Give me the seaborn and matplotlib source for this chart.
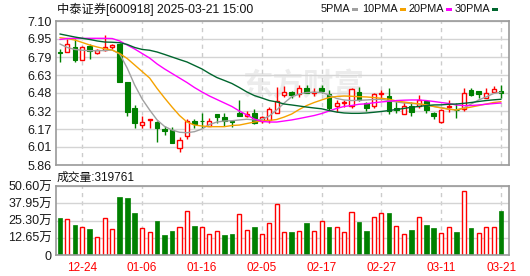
import numpy as np
import pandas as pd
import matplotlib
matplotlib.use("Agg")
import matplotlib.pyplot as plt
from matplotlib.patches import Rectangle
import seaborn as sns

# ---------------- data ----------------
dates = ["12-19", "12-20", "12-23", "12-24", "12-25", "12-26", "12-27", "12-30", "12-31",
         "01-02", "01-03", "01-06", "01-07", "01-08", "01-09", "01-10", "01-13", "01-14",
         "01-15", "01-16", "01-17", "01-20", "01-21", "01-22", "01-23", "01-24", "01-27",
         "02-05", "02-06", "02-07", "02-10", "02-11", "02-12", "02-13", "02-14", "02-17",
         "02-18", "02-19", "02-20", "02-21", "02-24", "02-25", "02-26", "02-27", "02-28",
         "03-03", "03-04", "03-05", "03-06", "03-07", "03-10", "03-11", "03-12", "03-13",
         "03-14", "03-17", "03-18", "03-19", "03-20", "03-21"]

open_ = [6.832, 6.830, 6.876, 6.764, 6.887, 6.822, 6.846, 6.880, 6.906, 6.572,
         6.348, 6.202, 6.250, 6.228, 6.167, 6.161, 6.004, 6.110, 6.235, 6.243,
         6.200, 6.295, 6.273, 6.240, 6.310, 6.278, 6.312, 6.235, 6.248, 6.310,
         6.463, 6.491, 6.469, 6.519, 6.480, 6.520, 6.471, 6.370, 6.394, 6.371,
         6.486, 6.391, 6.371, 6.470, 6.454, 6.347, 6.303, 6.368, 6.364, 6.411,
         6.312, 6.233, 6.360, 6.336, 6.338, 6.502, 6.493, 6.441, 6.486, 6.497]
high = [6.859, 6.941, 6.942, 6.885, 6.899, 6.855, 6.979, 6.902, 6.910, 6.572,
        6.374, 6.279, 6.258, 6.239, 6.192, 6.187, 6.097, 6.256, 6.256, 6.312,
        6.265, 6.299, 6.305, 6.245, 6.420, 6.325, 6.340, 6.282, 6.362, 6.534,
        6.543, 6.500, 6.549, 6.553, 6.520, 6.553, 6.506, 6.420, 6.420, 6.526,
        6.532, 6.405, 6.484, 6.510, 6.527, 6.415, 6.403, 6.403, 6.467, 6.424,
        6.319, 6.338, 6.420, 6.394, 6.520, 6.519, 6.500, 6.523, 6.540, 6.549]
low = [6.744, 6.830, 6.744, 6.764, 6.770, 6.820, 6.845, 6.859, 6.575, 6.285,
       6.181, 6.176, 6.176, 6.061, 6.118, 6.047, 5.968, 6.081, 6.179, 6.179,
       6.196, 6.220, 6.196, 6.185, 6.280, 6.270, 6.215, 6.219, 6.219, 6.305,
       6.448, 6.440, 6.443, 6.480, 6.450, 6.480, 6.334, 6.316, 6.360, 6.351,
       6.410, 6.325, 6.350, 6.420, 6.300, 6.305, 6.300, 6.282, 6.350, 6.308,
       6.252, 6.224, 6.320, 6.265, 6.325, 6.454, 6.433, 6.440, 6.484, 6.433]
close = [6.824, 6.899, 6.762, 6.874, 6.844, 6.846, 6.880, 6.893, 6.577, 6.319,
         6.224, 6.228, 6.255, 6.181, 6.155, 6.047, 6.071, 6.243, 6.213, 6.235,
         6.240, 6.276, 6.237, 6.233, 6.282, 6.299, 6.219, 6.276, 6.342, 6.411,
         6.489, 6.460, 6.520, 6.484, 6.489, 6.493, 6.355, 6.398, 6.402, 6.512,
         6.417, 6.351, 6.471, 6.480, 6.322, 6.330, 6.364, 6.319, 6.424, 6.334,
         6.285, 6.334, 6.368, 6.333, 6.480, 6.465, 6.468, 6.484, 6.512, 6.484]

# volume in 万 (10k shares)
volume_wan = [26.9, 26.2, 22.0, 20.8, 18.8, 13.4, 27.4, 19.3, 42.3, 41.6,
              30.6, 20.0, 16.6, 24.9, 14.7, 17.6, 20.8, 32.5, 21.3, 20.3,
              15.2, 17.8, 14.7, 15.4, 30.1, 18.1, 20.3, 15.2, 23.2, 37.2,
              17.1, 16.6, 17.8, 23.2, 17.8, 25.2, 20.3, 20.8, 16.6, 31.8,
              24.0, 17.4, 28.1, 31.0, 30.6, 21.5, 15.2, 18.3, 27.6, 22.0,
              19.8, 15.9, 20.8, 16.9, 46.7, 19.8, 15.9, 20.8, 20.8, 31.98]

ma5 = [6.902, 6.872, 6.855, 6.848, 6.844, 6.844, 6.846, 6.850, 6.816, 6.695,
       6.549, 6.428, 6.334, 6.248, 6.192, 6.161, 6.142, 6.138, 6.147, 6.170,
       6.209, 6.230, 6.239, 6.241, 6.248, 6.254, 6.248, 6.252, 6.282, 6.334,
       6.394, 6.448, 6.471, 6.484, 6.486, 6.486, 6.463, 6.433, 6.420, 6.415,
       6.417, 6.420, 6.424, 6.426, 6.415, 6.403, 6.394, 6.390, 6.385, 6.377,
       6.364, 6.355, 6.342, 6.334, 6.351, 6.385, 6.420, 6.446, 6.476, 6.486]
ma10 = [6.956, 6.949, 6.936, 6.915, 6.893, 6.876, 6.861, 6.850, 6.820, 6.777,
        6.721, 6.665, 6.609, 6.519, 6.437, 6.359, 6.286, 6.230, 6.204, 6.196,
        6.190, 6.190, 6.190, 6.200, 6.204, 6.217, 6.230, 6.239, 6.243, 6.252,
        6.273, 6.299, 6.338, 6.372, 6.398, 6.420, 6.441, 6.450, 6.454, 6.452,
        6.448, 6.446, 6.441, 6.434, 6.427, 6.411, 6.403, 6.394, 6.387, 6.377,
        6.364, 6.351, 6.340, 6.334, 6.347, 6.359, 6.372, 6.385, 6.398, 6.405]
ma20 = [6.941, 6.949, 6.951, 6.951, 6.951, 6.951, 6.951, 6.949, 6.928, 6.893,
        6.859, 6.820, 6.781, 6.730, 6.687, 6.648, 6.609, 6.570, 6.527, 6.489,
        6.454, 6.424, 6.394, 6.364, 6.325, 6.291, 6.256, 6.235, 6.230, 6.230,
        6.239, 6.248, 6.260, 6.273, 6.286, 6.303, 6.325, 6.347, 6.364, 6.372,
        6.383, 6.387, 6.396, 6.403, 6.409, 6.415, 6.418, 6.420, 6.420, 6.415,
        6.407, 6.398, 6.390, 6.377, 6.372, 6.372, 6.377, 6.383, 6.389, 6.394]
ma30 = [6.988, 6.975, 6.962, 6.951, 6.941, 6.928, 6.919, 6.917, 6.913, 6.898,
        6.872, 6.855, 6.848, 6.833, 6.812, 6.790, 6.768, 6.747, 6.717, 6.687,
        6.648, 6.613, 6.588, 6.562, 6.527, 6.489, 6.458, 6.437, 6.415, 6.403,
        6.385, 6.377, 6.368, 6.359, 6.351, 6.344, 6.329, 6.316, 6.308, 6.305,
        6.305, 6.308, 6.314, 6.321, 6.329, 6.338, 6.347, 6.357, 6.364, 6.372,
        6.377, 6.378, 6.383, 6.385, 6.391, 6.398, 6.407, 6.415, 6.421, 6.426]

ma_names = ["5PMA", "10PMA", "20PMA", "30PMA"]
price_tick_labels = ["5.86", "6.01", "6.17", "6.32", "6.48", "6.63", "6.79", "6.95", "7.10"]
vol_tick_labels = ["0", "12.65万", "25.30万", "37.95万", "50.60万"]
date_tick_labels = ["12-24", "01-06", "01-16", "02-05", "02-17", "02-27", "03-11", "03-21"]
title_text = "中泰证券[600918] 2025-03-21 15:00"
volume_title = "成交量"
last_volume = 319761

# ---------------- style ----------------
RED = "#ff0000"
GREEN = "#008000"
ma_colors = ["#a0a0a0", "#f5a200", "#ff00ff", "#00662e"]
GRID = "#d4d4d4"
SPINE = "#9a9a9a"

sns.set_style("white")
plt.rcParams["font.family"] = ["Liberation Sans", "Noto Sans CJK SC", "DejaVu Sans"]

W, H = 530, 276
fig = plt.figure(figsize=(W / 100, H / 100), dpi=100)


def rect(l, t, r, b):
    return [l / W, 1 - b / H, (r - l) / W, (b - t) / H]


ax = fig.add_axes(rect(56, 21, 509, 165))
axv = fig.add_axes(rect(56, 186, 509, 255), sharex=ax)

x = np.arange(len(dates))
o = np.array(open_)
h = np.array(high)
l = np.array(low)
c = np.array(close)
v = np.array(volume_wan)
up = c >= o

# ---------------- candles ----------------
top = np.maximum(o, c)
bot = np.minimum(o, c)
body = np.maximum(top - bot, 0.0015)
cols = np.where(up, RED, GREEN)
ax.vlines(x, top, h, colors=cols, lw=1, zorder=2)
ax.vlines(x, l, bot, colors=cols, lw=1, zorder=2)
ax.bar(x[up], body[up], bottom=bot[up], width=0.55, facecolor="white",
       edgecolor=RED, linewidth=1, zorder=2.5)
ax.bar(x[~up], body[~up], bottom=bot[~up], width=0.62, facecolor=GREEN,
       edgecolor=GREEN, linewidth=0.8, zorder=2.5)

# ---------------- moving averages (seaborn) ----------------
ma_df = pd.DataFrame({
    "idx": np.tile(x, 4),
    "value": np.concatenate([ma5, ma10, ma20, ma30]),
    "ma": np.repeat(ma_names, len(x)),
})
sns.lineplot(data=ma_df, x="idx", y="value", hue="ma", hue_order=ma_names,
             palette=dict(zip(ma_names, ma_colors)), ax=ax, legend=False,
             linewidth=1.0, zorder=3)

# watermark
ax.text(0.545, 0.55, "东方财富", transform=ax.transAxes, fontsize=22,
        color="#ececec", ha="center", va="center", zorder=0.5, fontweight="bold",
        family=["Noto Sans CJK SC"])

# ---------------- volume ----------------
prev_c = np.r_[np.nan, c[:-1]]
vol_up = np.where(np.isnan(prev_c), up, c > prev_c).astype(bool)
axv.bar(x[vol_up], v[vol_up], width=0.55, facecolor="white", edgecolor=RED,
        linewidth=1, zorder=2)
axv.bar(x[~vol_up], v[~vol_up], width=0.62, facecolor=GREEN, edgecolor=GREEN,
        linewidth=0.5, zorder=2)

# ---------------- axes cosmetics ----------------
tick_idx = [dates.index(d) for d in date_tick_labels]
for a in (ax, axv):
    a.set_xlim(-0.52, 60.06)
    a.set_xlabel("")
    a.set_ylabel("")
    for s in a.spines.values():
        s.set_color(SPINE)
        s.set_linewidth(1.2)
        s.set_visible(True)
    a.set_xticks(tick_idx)
    a.grid(axis="y", color=GRID, lw=1, zorder=0)
    a.grid(axis="x", color="#cccccc", lw=1, linestyle=(0, (3, 3)), zorder=0)
    a.set_axisbelow(True)
    a.tick_params(length=0, labelsize=9, pad=3, labelcolor="#1a1a1a")

ax.set_ylim(5.86, 7.10)
ax.set_yticks(np.linspace(5.86, 7.10, len(price_tick_labels)))
ax.set_yticklabels(price_tick_labels)
ax.tick_params(axis="x", labelbottom=False)

axv.set_ylim(0, 50.60)
axv.set_yticks(np.linspace(0, 50.60, len(vol_tick_labels)))
axv.set_yticklabels(vol_tick_labels)
axv.set_xticklabels(date_tick_labels)
axv.tick_params(axis="x", labelcolor=RED, labelsize=8.5, pad=5)

# ---------------- texts ----------------
fig.text(57 / W, 1 - 9.5 / H, title_text, fontsize=8.8, va="center", ha="left",
         color="#111111")
fig.text(57 / W, 1 - 177.5 / H, f"{volume_title}:{last_volume}", fontsize=8.5,
         va="center", ha="left", color="#111111")

legend_mark_x = [352, 400, 446, 492]
for name, col, mx in zip(ma_names, ma_colors, legend_mark_x):
    fig.text((mx - 2) / W, 1 - 9.5 / H, name, fontsize=7.8, va="center", ha="right",
             color="#111111")
    fig.patches.append(Rectangle((mx / W, 1 - 11 / H), 5.5 / W, 3.5 / H,
                                 transform=fig.transFigure, facecolor=col,
                                 edgecolor="none"))

fig.savefig("out.png", dpi=100)
